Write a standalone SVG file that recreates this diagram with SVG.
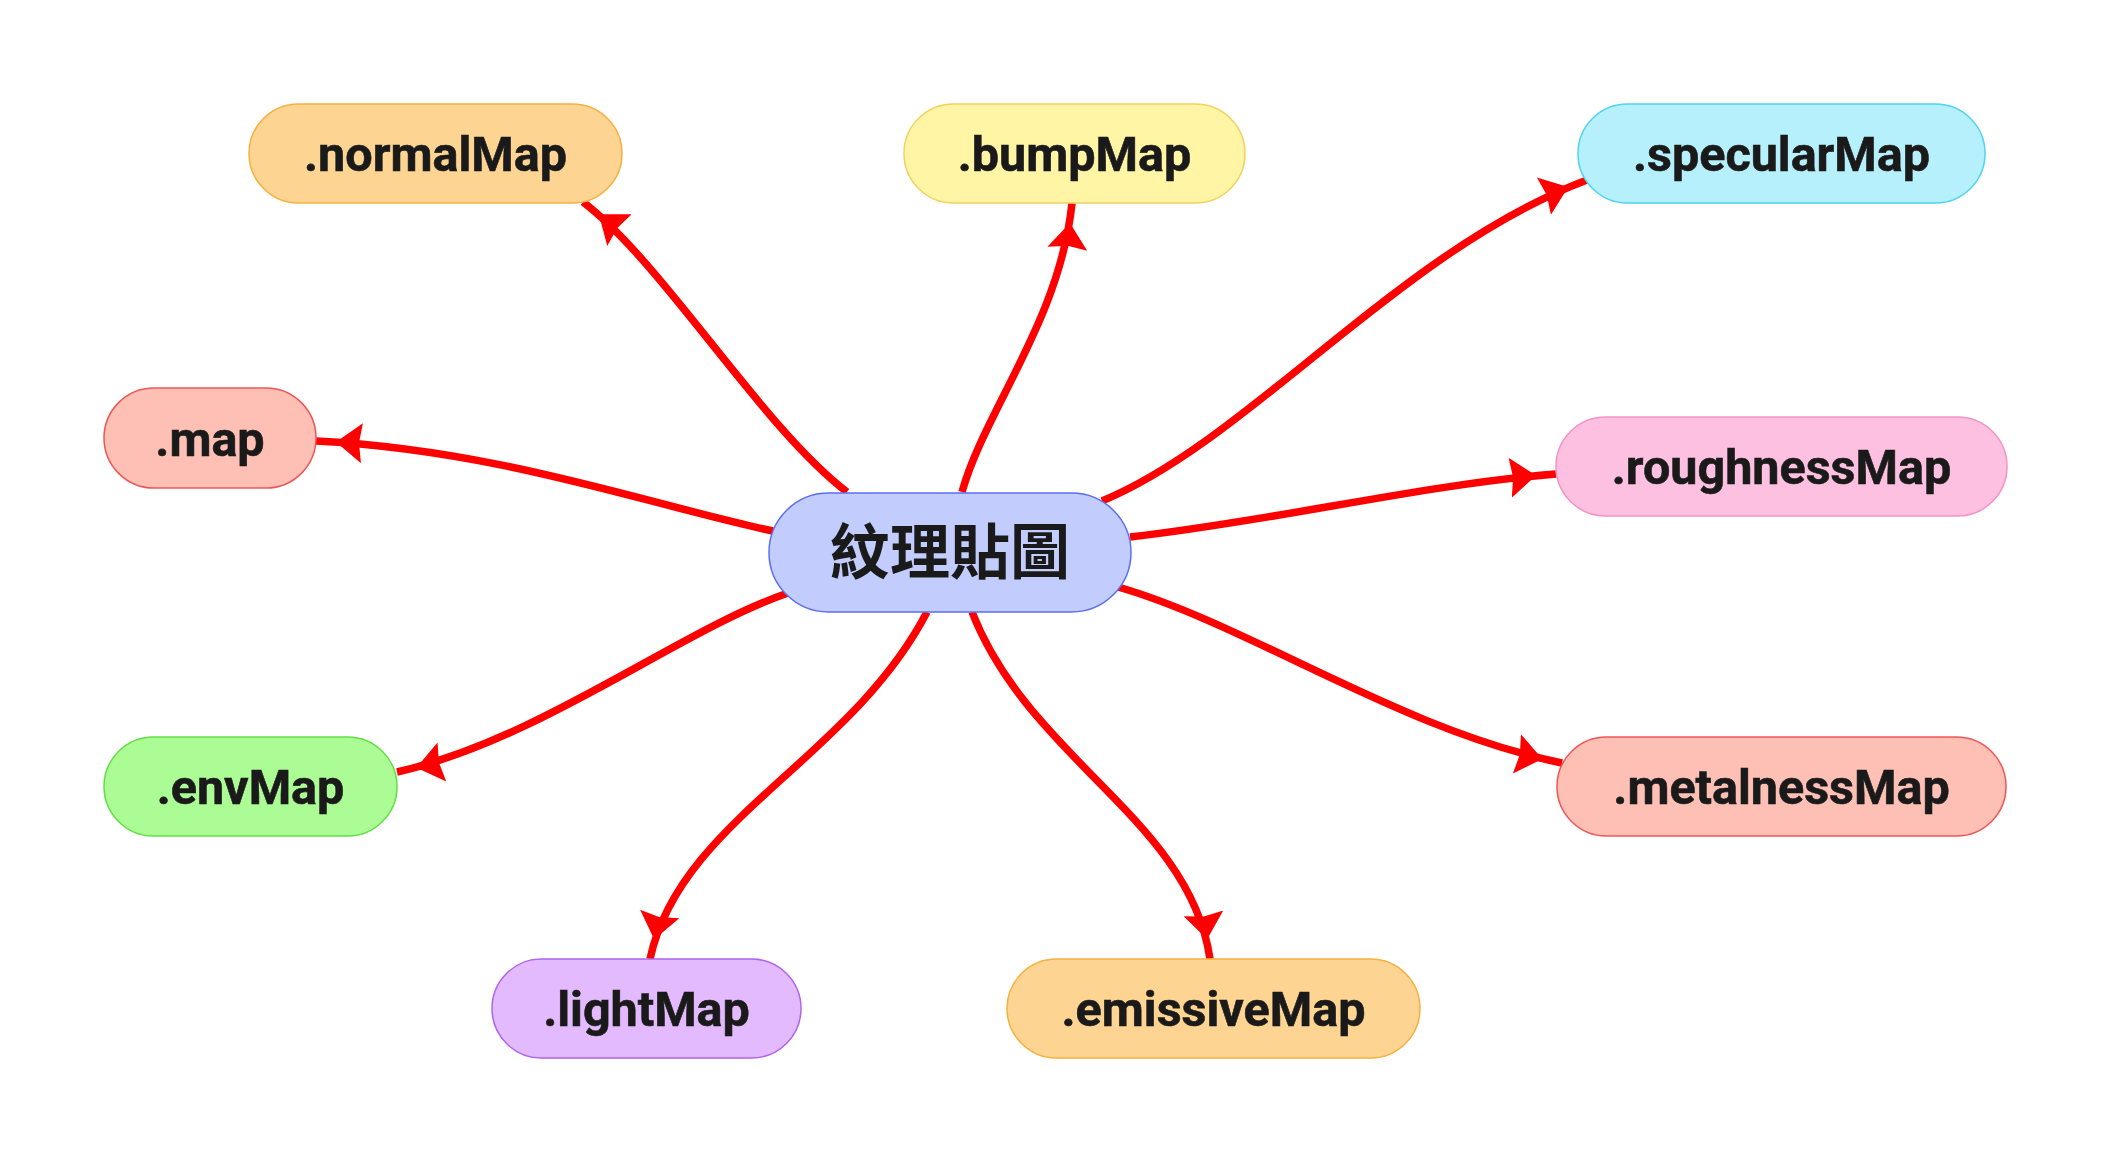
<svg xmlns="http://www.w3.org/2000/svg" width="2112" height="1164" viewBox="0 0 2112 1164">
<style>
.edge{fill:none;stroke:#ff0000;stroke-width:7.5;marker-end:url(#arr)}
.lbl{font-family:Roboto,"Liberation Sans",sans-serif;font-weight:700;font-size:48.5px;fill:#1a1a1a;text-anchor:middle;stroke:#1a1a1a;stroke-width:0.6}
.cjk{font-family:"Noto Sans CJK TC","Noto Sans CJK SC",sans-serif;font-weight:700;font-size:60px;fill:#1a1a1a;text-anchor:middle}
</style>
<defs>
<marker id="arr" markerUnits="userSpaceOnUse" markerWidth="64" markerHeight="48" viewBox="0 -24 64 48" refX="46" refY="0" orient="auto">
<path d="M0,-20 L26,0 L0,20 L3,0 z" fill="#ff0000"/>
</marker>
</defs>
<rect width="2112" height="1164" fill="#ffffff"/>
<g id="connectors">
<path class="edge" d="M847,492 C760,425 665,265 583,202"/>
<path class="edge" d="M962,492 C985,410 1060,320 1072,203"/>
<path class="edge" d="M1102,501 C1250,440 1400,250 1587,180"/>
<path class="edge" d="M773,531 C650,505 500,450 316,441"/>
<path class="edge" d="M1130,537 C1280,520 1420,485 1556,474"/>
<path class="edge" d="M1118,587 C1250,625 1400,730 1562,763"/>
<path class="edge" d="M788,593 C680,630 540,740 397,772"/>
<path class="edge" d="M927,612 C850,760 680,820 650,959"/>
<path class="edge" d="M972,612 C1030,760 1190,820 1210,959"/>
</g>
<g id="center">
<rect x="769" y="493" width="362" height="119" rx="59.5" fill="#c2cdfe" stroke="#5a6ff0" stroke-width="1.5"/>
<text class="cjk" x="950" y="574">紋理貼圖</text>
</g>
<g id="normalMap">
<rect x="249" y="104" width="373" height="99" rx="49.5" fill="#fed492" stroke="#f5b040" stroke-width="1.5"/>
<text class="lbl" x="435.5" y="171">.normalMap</text>
</g>
<g id="bumpMap">
<rect x="904" y="104" width="341" height="99" rx="49.5" fill="#fff5a5" stroke="#f3d060" stroke-width="1.5"/>
<text class="lbl" x="1074.5" y="171">.bumpMap</text>
</g>
<g id="specularMap">
<rect x="1578" y="104" width="407" height="99" rx="49.5" fill="#b6f0fc" stroke="#4fd3ef" stroke-width="1.5"/>
<text class="lbl" x="1781.5" y="171">.specularMap</text>
</g>
<g id="map">
<rect x="104" y="388" width="212" height="100" rx="50" fill="#fec0b5" stroke="#ef5555" stroke-width="1.5"/>
<text class="lbl" x="210" y="455.5">.map</text>
</g>
<g id="roughnessMap">
<rect x="1556" y="417" width="451" height="99" rx="49.5" fill="#fec0e0" stroke="#f592c4" stroke-width="1.5"/>
<text class="lbl" x="1781.5" y="484">.roughnessMap</text>
</g>
<g id="envMap">
<rect x="104" y="737" width="293" height="99" rx="49.5" fill="#acfc96" stroke="#62de44" stroke-width="1.5"/>
<text class="lbl" x="250.5" y="804">.envMap</text>
</g>
<g id="metalnessMap">
<rect x="1557" y="737" width="449" height="99" rx="49.5" fill="#fec0b5" stroke="#ef5555" stroke-width="1.5"/>
<text class="lbl" x="1781.5" y="804">.metalnessMap</text>
</g>
<g id="lightMap">
<rect x="492" y="959" width="309" height="99" rx="49.5" fill="#e3bafd" stroke="#b063ef" stroke-width="1.5"/>
<text class="lbl" x="646.5" y="1026">.lightMap</text>
</g>
<g id="emissiveMap">
<rect x="1007" y="959" width="413" height="99" rx="49.5" fill="#fed492" stroke="#f5b040" stroke-width="1.5"/>
<text class="lbl" x="1213.5" y="1026">.emissiveMap</text>
</g>
</svg>
